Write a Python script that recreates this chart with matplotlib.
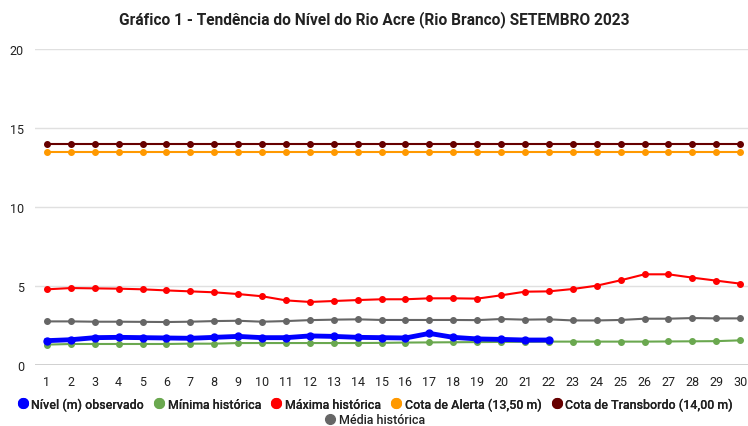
import matplotlib
matplotlib.use('Agg')
import matplotlib.pyplot as plt
from matplotlib.lines import Line2D

plt.rcParams['font.family'] = ['Roboto', 'DejaVu Sans']

dias = list(range(1, 31))

# Nível observado (até dia 22)
nivel_observado = [1.54, 1.60, 1.73, 1.75, 1.73, 1.71, 1.69, 1.75, 1.81, 1.73,
                   1.73, 1.84, 1.81, 1.75, 1.73, 1.71, 2.00, 1.75, 1.65, 1.62,
                   1.58, 1.58]
minima_historica = [1.29, 1.33, 1.33, 1.33, 1.33, 1.33, 1.35, 1.35, 1.39, 1.39,
                    1.39, 1.39, 1.39, 1.39, 1.40, 1.42, 1.43, 1.44, 1.45, 1.46,
                    1.47, 1.48, 1.48, 1.48, 1.48, 1.48, 1.49, 1.50, 1.51, 1.56]
maxima_historica = [4.79, 4.87, 4.85, 4.83, 4.79, 4.72, 4.66, 4.60, 4.49, 4.35,
                    4.09, 3.99, 4.05, 4.11, 4.16, 4.16, 4.22, 4.22, 4.20, 4.41,
                    4.64, 4.66, 4.81, 5.02, 5.36, 5.74, 5.74, 5.53, 5.34, 5.15]
media_historica = [2.76, 2.76, 2.74, 2.74, 2.73, 2.72, 2.74, 2.78, 2.80, 2.74,
                   2.78, 2.84, 2.87, 2.89, 2.85, 2.85, 2.85, 2.85, 2.84, 2.91,
                   2.87, 2.89, 2.82, 2.82, 2.85, 2.93, 2.93, 2.97, 2.95, 2.95]
cota_alerta = [13.5] * 30
cota_transbordo = [14.0] * 30

cor_nivel = '#0000ff'
cor_min = '#6aa84f'
cor_max = '#ff0000'
cor_alerta = '#ff9900'
cor_transb = '#660000'
cor_media = '#666666'

fig = plt.figure(figsize=(7.48, 4.27), dpi=100)
ax = fig.add_axes([35 / 748, 1 - 366 / 427, 1 - 35 / 748, (366 - 50) / 427])

ax.plot(dias, cota_transbordo, color=cor_transb, lw=1.5, marker='o', ms=4, zorder=3)
ax.plot(dias, cota_alerta, color=cor_alerta, lw=1.5, marker='o', ms=4, zorder=3)
ax.plot(dias, maxima_historica, color=cor_max, lw=1.5, marker='o', ms=4, zorder=3)
ax.plot(dias, media_historica, color=cor_media, lw=1.5, marker='o', ms=4, zorder=3)
ax.plot(dias, minima_historica, color=cor_min, lw=1.5, marker='o', ms=4, zorder=3)
ax.plot(dias[:len(nivel_observado)], nivel_observado, color=cor_nivel, lw=3.5,
        marker='o', ms=5, zorder=4)

ax.set_xlim(0.5, 30.33)
ax.set_ylim(0, 20)
ax.set_yticks([0, 5, 10, 15, 20])
ax.set_xticks(dias)
ax.grid(axis='y', color='#e0e0e0', lw=1)
ax.axhline(0, color='#333333', lw=1, zorder=2)
for s in ax.spines.values():
    s.set_visible(False)
ax.tick_params(length=0, labelsize=9, colors='#222222')
ax.tick_params(axis='y', pad=8)
ax.tick_params(axis='x', pad=7)

fig.suptitle('Gráfico 1 - Tendência do Nível do Rio Acre (Rio Branco) SETEMBRO 2023',
             x=0.5, y=0.975, fontsize=11.2, fontweight='bold', color='#222222')


def handle(cor):
    return Line2D([], [], ls='none', marker='o', ms=7, color=cor)


linha1 = [(cor_nivel, 'Nível (m) observado'), (cor_min, 'Mínima histórica'),
          (cor_max, 'Máxima histórica'), (cor_alerta, 'Cota de Alerta (13,50 m)'),
          (cor_transb, 'Cota de Transbordo (14,00 m)')]
leg1 = fig.legend([handle(c) for c, _ in linha1], [t for _, t in linha1],
                  loc='center', bbox_to_anchor=(0.5, 1 - 405 / 427), ncol=5,
                  frameon=False, fontsize=9, handletextpad=0.1, columnspacing=0.6,
                  handlelength=1.2)
leg2 = fig.legend([handle(cor_media)], ['Média histórica'],
                  loc='center', bbox_to_anchor=(0.5, 1 - 421 / 427), ncol=1,
                  frameon=False, fontsize=9, handletextpad=0.1, handlelength=1.2)
fig.add_artist(leg1)
for leg in (leg1, leg2):
    for t in leg.get_texts():
        t.set_fontweight('medium')
        t.set_color('#222222')

fig.savefig('out.png', dpi=100)
